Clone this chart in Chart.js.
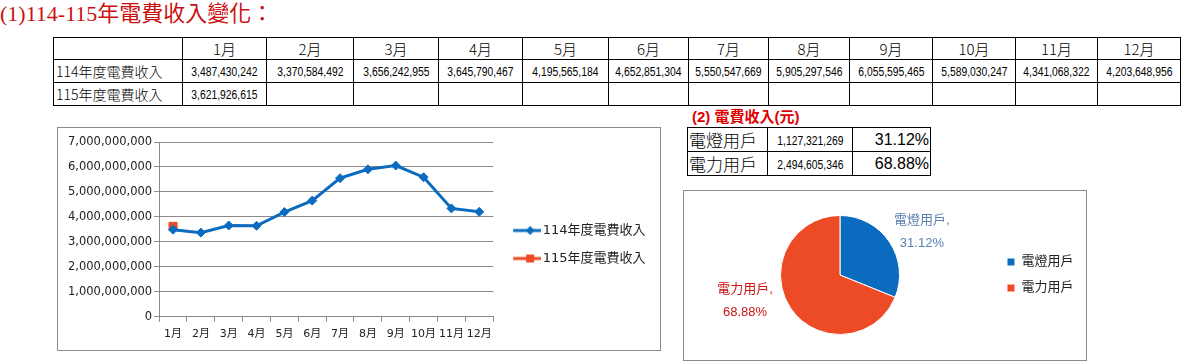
<!DOCTYPE html>
<html>
<head>
<meta charset="utf-8">
<script src="https://cdn.jsdelivr.net/npm/chart.js@4.4.1/dist/chart.umd.min.js"></script>
<style>
  body { margin: 0; background: #fff; width: 1186px; height: 364px; position: relative; overflow: hidden;
         font-family: 'Noto Sans CJK TC', 'DejaVu Sans', sans-serif; color: #000; }
  .title { position: absolute; left: 0; top: 2px; font: 22px/24px 'Liberation Serif', 'Noto Sans CJK TC', serif;
           color: #cc1111; white-space: nowrap; }
  .sub { position: absolute; left: 692px; top: 107px; font: bold 15px/20px 'Liberation Sans', 'Noto Sans CJK TC', sans-serif;
         color: #e00000; white-space: nowrap; }
  table { border-collapse: collapse; table-layout: fixed; position: absolute; }
  td { border: 1px solid #000; padding: 0; white-space: nowrap; overflow: hidden; line-height: 20px; }
  #t1 { left: 53px; top: 37px; width: 1128px; }
  #t1 td { height: 21px; text-align: center; font-size: 15px; font-weight: 300; }
  #t1 td.lab { text-align: left; padding-left: 2px; font-size: 14px; }
  td.num span { display: inline-block; font-family: 'Liberation Sans', sans-serif; font-size: 12px;
                transform: scaleX(0.86); }
  #t2 { left: 687px; top: 127px; width: 244px; }
  #t2 td { height: 20px; font-size: 17px; font-weight: 300; padding-left: 1px; }
  #t2 td.num { text-align: center; padding-left: 0; }
  #t2 td.pct { text-align: right; font-family: 'Liberation Sans', sans-serif; font-size: 16px; padding-right: 1px; }
  .box { position: absolute; border: 1px solid #8a8a8a; box-sizing: border-box; pointer-events: none; }
  .chart { position: absolute; }
</style>
</head>
<body>
<div class="title">(1)114-115年電費收入變化：</div>
<table id="t1"></table>
<div class="sub">(2) 電費收入(元)</div>
<table id="t2"></table>

<div class="chart" style="left:57px;top:127px;width:603px;height:223px;"><canvas id="lineChart"></canvas></div>
<div class="box" style="left:57px;top:127px;width:604px;height:224px;"></div>

<div class="chart" style="left:683px;top:190px;width:403px;height:170px;"><canvas id="pieChart"></canvas></div>
<div class="box" style="left:683px;top:190px;width:404px;height:171px;"></div>

<script>
const months = ['1月', '2月', '3月', '4月', '5月', '6月', '7月', '8月', '9月', '10月', '11月', '12月'];
const seriesNames = ['114年度電費收入', '115年度電費收入'];
const rev114 = [3487430242, 3370584492, 3656242955, 3645790467, 4195565184, 4652851304,
                5550547669, 5905297546, 6055595465, 5589030247, 4341068322, 4203648956];
const rev115 = [3621926615];
const userTypes = ['電燈用戶', '電力用戶'];
const userRevenue = [1127321269, 2494605346];
const yMax = 7000000000;
const yStep = 1000000000;

const blue = '#0b6cbf';
const red = '#ec4b26';
const grey = '#8a8a8a';
const fmt = v => v.toLocaleString('en-US');

// table 1
const colW = [129, 84, 87, 85, 84, 86, 80, 80, 81, 83, 83, 82, 83];
let html = '<colgroup>' + colW.map(w => `<col style="width:${w}px">`).join('') + '</colgroup>';
html += '<tr><td></td>' + months.map(m => `<td>${m}</td>`).join('') + '</tr>';
[rev114, rev115].forEach((row, r) => {
  html += `<tr><td class="lab">${seriesNames[r]}</td>` +
    months.map((m, i) => `<td class="num">${row[i] != null ? '<span>' + fmt(row[i]) + '</span>' : ''}</td>`).join('') + '</tr>';
});
document.getElementById('t1').innerHTML = html;

// table 2
const total = userRevenue.reduce((a, b) => a + b, 0);
let html2 = '<colgroup><col style="width:80px"><col style="width:85px"><col style="width:78px"></colgroup>';
userTypes.forEach((t, i) => {
  html2 += `<tr><td>${t}</td><td class="num"><span>${fmt(userRevenue[i])}</span></td>` +
    `<td class="pct">${(userRevenue[i] / total * 100).toFixed(2)}%</td></tr>`;
});
document.getElementById('t2').innerHTML = html2;

// legend icons: line with marker, like the spreadsheet legend
function legendIcon(color, shape) {
  const c = document.createElement('canvas');
  c.width = 38; c.height = 12;
  const g = c.getContext('2d');
  g.strokeStyle = color; g.lineWidth = 3;
  g.beginPath(); g.moveTo(10, 6); g.lineTo(38, 6); g.stroke();
  g.fillStyle = color;
  g.beginPath();
  if (shape === 'diamond') {
    g.moveTo(27, 1.5); g.lineTo(31.5, 6); g.lineTo(27, 10.5); g.lineTo(22.5, 6); g.closePath();
  } else {
    g.rect(23, 2, 8, 8);
  }
  g.fill();
  return c;
}
const icons = [legendIcon(blue, 'diamond'), legendIcon(red, 'square')];

const fontFamily = "'DejaVu Sans', 'Noto Sans CJK TC'";

new Chart(document.getElementById('lineChart'), {
  type: 'line',
  data: {
    labels: months,
    datasets: [{
      label: seriesNames[0],
      data: rev114,
      borderColor: blue,
      backgroundColor: blue,
      borderWidth: 3,
      pointStyle: 'rectRot',
      pointRadius: 4.5,
      pointBorderWidth: 1,
      tension: 0
    }, {
      label: seriesNames[1],
      data: months.map((m, i) => rev115[i] != null ? rev115[i] : null),
      borderColor: red,
      backgroundColor: red,
      borderWidth: 3,
      pointStyle: 'rect',
      pointRadius: 5.7,
      pointBorderWidth: 1
    }]
  },
  options: {
    responsive: true,
    maintainAspectRatio: false,
    animation: false,
    events: [],
    layout: { padding: { left: 9, top: 15, right: 4.5, bottom: 3 } },
    scales: {
      x: {
        offset: true,
        grid: { offset: true, drawOnChartArea: false, drawTicks: true, tickLength: 5, color: grey },
        border: { color: grey },
        ticks: { autoSkip: false, maxRotation: 0, minRotation: 0, padding: 6, color: '#222',
                 font: { family: fontFamily, size: 11 } }
      },
      y: {
        min: 0,
        max: yMax,
        grid: { color: grey, tickLength: 5 },
        border: { color: grey },
        ticks: { stepSize: yStep, padding: 2, color: '#222', font: { family: fontFamily, size: 11.5 },
                 callback: v => fmt(v) }
      }
    },
    plugins: {
      tooltip: { enabled: false },
      legend: {
        position: 'right',
        maxWidth: 200, // otherwise capped at a quarter of the width and the text gets clipped
        labels: {
          usePointStyle: true,
          pointStyleWidth: 28,
          padding: 15,
          color: '#222',
          font: { family: fontFamily, size: 13 },
          generateLabels(chart) {
            const items = Chart.defaults.plugins.legend.labels.generateLabels(chart);
            items.forEach((it, i) => { it.pointStyle = icons[i]; });
            return items;
          }
        }
      }
    }
  }
});

// outside labels for the pie: "name," and percent on two lines
const pieLabels = {
  id: 'pieLabels',
  afterDatasetsDraw(chart, args, opts) {
    const ctx = chart.ctx;
    const ds = chart.data.datasets[0];
    const sum = ds.data.reduce((a, b) => a + b, 0);
    chart.getDatasetMeta(0).data.forEach((arc, i) => {
      const p = arc.getProps(['x', 'y', 'startAngle', 'endAngle', 'outerRadius'], true);
      const a = (p.startAngle + p.endAngle) / 2 + opts.shift[i] * Math.PI / 180;
      const r = p.outerRadius + opts.offset[i];
      const x = p.x + Math.cos(a) * r;
      const y = p.y + Math.sin(a) * r;
      ctx.save();
      ctx.font = "13px 'Liberation Sans', 'Noto Sans CJK TC'";
      ctx.fillStyle = opts.colors[i];
      ctx.textAlign = 'center';
      ctx.textBaseline = 'middle';
      ctx.fillText(chart.data.labels[i] + ',', x, y - 11.5);
      ctx.fillText((ds.data[i] / sum * 100).toFixed(2) + '%', x, y + 11.5);
      ctx.restore();
    });
  }
};

new Chart(document.getElementById('pieChart'), {
  type: 'pie',
  data: {
    labels: userTypes,
    datasets: [{
      data: userRevenue,
      backgroundColor: [blue, red],
      borderColor: '#fff',
      borderWidth: 1
    }]
  },
  plugins: [pieLabels],
  options: {
    responsive: true,
    maintainAspectRatio: false,
    animation: false,
    events: [],
    layout: { padding: { left: 3, top: 25, right: 2.5, bottom: 25 } },
    plugins: {
      tooltip: { enabled: false },
      pieLabels: { shift: [6.3, 18.7], offset: [33, 39], colors: ['#5a7fb2', '#cc1414'] },
      legend: {
        position: 'right',
        labels: {
          boxWidth: 8,
          boxHeight: 8,
          padding: 13,
          color: '#222',
          font: { family: fontFamily, size: 13 }
        }
      }
    }
  }
});
</script>
</body>
</html>
